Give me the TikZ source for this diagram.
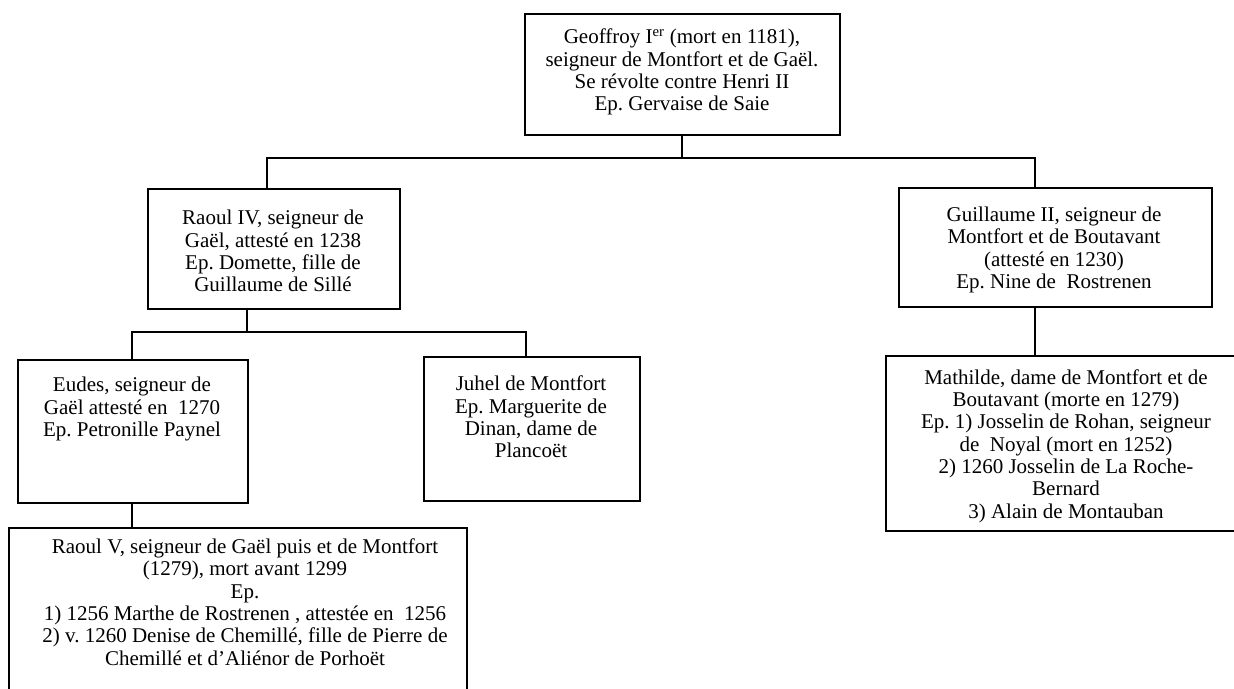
\documentclass[tikz,border=0pt]{standalone}
\usepackage{fontspec}
\setmainfont{Liberation Serif}
\frenchspacing
\begin{document}
\begin{tikzpicture}[x=1pt,y=-1pt,
  famillebox/.style={draw=black, line width=1.5pt, inner sep=0pt, fill=none},
  familletxt/.style={anchor=center, align=center, inner sep=0pt, font=\fontsize{21}{22.3}\selectfont\frenchspacing},
  lien/.style={draw=black, line width=1.5pt}]
\useasboundingbox (0,0) rectangle (1234,688);
\clip (0,0) rectangle (1234,688);
\fill[white] (0,0) rectangle (1234,688);
% boxes
\node[famillebox, minimum width=315pt, minimum height=121pt, anchor=north west] (geoffroy) at (524,13) {};
\node[famillebox, minimum width=252pt, minimum height=120pt, anchor=north west] (raoul4) at (147,188) {};
\node[famillebox, minimum width=313pt, minimum height=119pt, anchor=north west] (guillaume) at (898,187) {};
\node[famillebox, minimum width=230pt, minimum height=143pt, anchor=north west] (eudes) at (17,359) {};
\node[famillebox, minimum width=216pt, minimum height=144pt, anchor=north west] (juhel) at (423,356) {};
\node[famillebox, minimum width=362pt, minimum height=175pt, anchor=north west] (mathilde) at (885,355) {};
\node[famillebox, minimum width=458pt, minimum height=180pt, anchor=north west] (raoul5) at (8,527) {};
% texts
\node[familletxt] (tgeoffroy) at (682,72) {Geoffroy I\textsuperscript{er} (mort en 1181),\\ seigneur de Montfort et de Gaël.\\ Se révolte contre Henri II\\ Ep. Gervaise de Saie};
\node[familletxt] (traoul4) at (273,251) {Raoul IV, seigneur de\\ Gaël, attesté en 1238\\ Ep. Domette, fille de\\ Guillaume de Sillé};
\node[familletxt] (tguillaume) at (1054,250) {Guillaume II, seigneur de\\ Montfort et de Boutavant\\ (attesté en 1230)\\ Ep. Nine de\ \ Rostrenen};
\node[familletxt] (teudes) at (132,409) {Eudes, seigneur de\\ Gaël attesté en\ \ 1270\\ Ep. Petronille Paynel};
\node[familletxt] (tjuhel) at (531,417) {Juhel de Montfort\\ Ep. Marguerite de\\ Dinan, dame de\\ Plancoët};
\node[familletxt] (tmathilde) at (1066,446) {Mathilde, dame de Montfort et de\\ Boutavant (morte en 1279)\\ Ep. 1) Josselin de Rohan, seigneur\\ de\ \ Noyal (mort en 1252)\\ 2) 1260 Josselin de La Roche-\\ Bernard\\ 3) Alain de Montauban};
\node[familletxt] (traoul5) at (245,602) {Raoul V, seigneur de Gaël puis et de Montfort\\ (1279), mort avant 1299\\ Ep.\\ 1) 1256 Marthe de Rostrenen , attestée en\ \ 1256\\ 2) v. 1260 Denise de Chemillé, fille de Pierre de\\ Chemillé et d’Aliénor de Porhoët};
% connector coordinates
\coordinate (h1) at (682,158);
\coordinate (h1l) at (267,158);
\coordinate (h1r) at (1035,158);
\coordinate (h2) at (247,332);
\coordinate (h2l) at (132,332);
\coordinate (h2r) at (526,332);
\coordinate (vmath) at (1035,300);
\coordinate (veudes) at (132,400);
% connectors
\draw[lien] (geoffroy.south -| h1) -- (h1);
\draw[lien] (raoul4.north -| h1l) -- (h1l) -- (h1r) -- (guillaume.north -| h1r);
\draw[lien] (raoul4.south -| h2) -- (h2);
\draw[lien] (eudes.north -| h2l) -- (h2l) -- (h2r) -- (juhel.north -| h2r);
\draw[lien] (guillaume.south -| vmath) -- (mathilde.north -| vmath);
\draw[lien] (eudes.south -| veudes) -- (raoul5.north -| veudes);
\end{tikzpicture}
\end{document}
